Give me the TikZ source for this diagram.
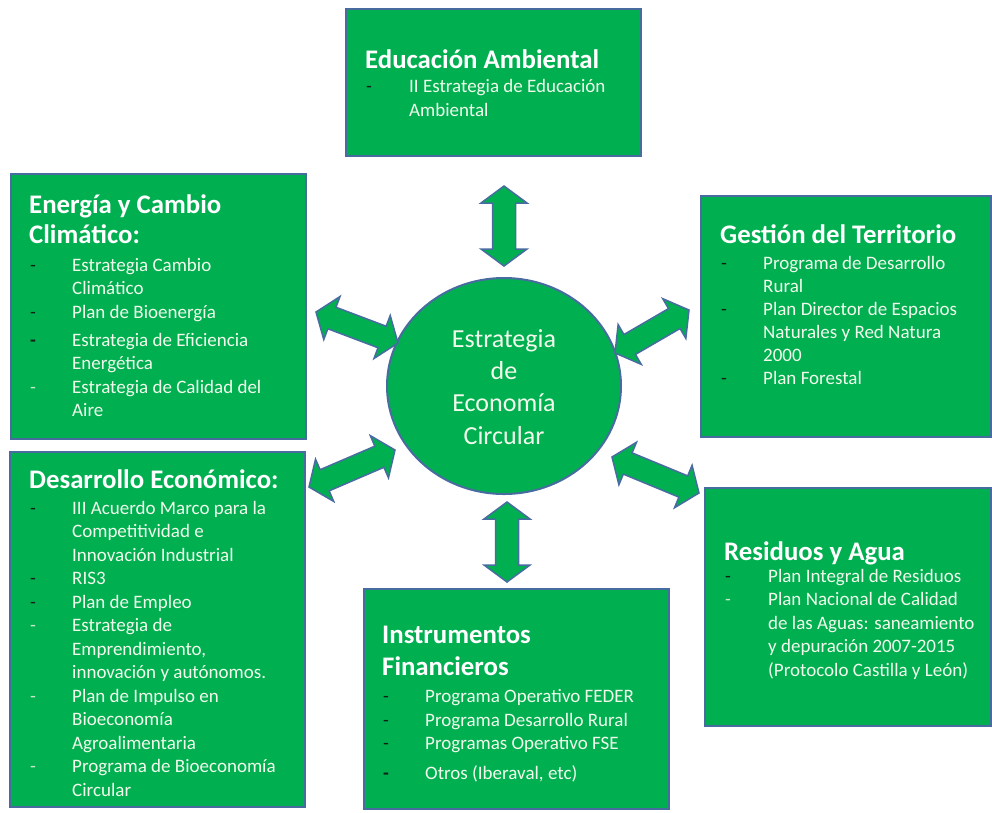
\documentclass[tikz,border=0pt]{standalone}
\usepackage{fontspec}
\setmainfont{Carlito}
\usetikzlibrary{calc,shapes.geometric}
\definecolor{grn}{RGB}{0,176,80}
\definecolor{bordc}{RGB}{72,108,160}
\definecolor{txtc}{RGB}{242,250,236}
\definecolor{lightdash}{RGB}{200,232,200}
\definecolor{darkdash}{RGB}{20,30,20}
\tikzset{
  box/.style={draw=bordc, line width=2pt, fill=grn, anchor=north west, inner sep=0pt},
  ttl/.style={text=white, font=\fontsize{26.8}{31}\selectfont\bfseries, anchor=base west, inner sep=0pt},
  bdy/.style={text=txtc, font=\fontsize{19}{23}\selectfont, anchor=base west, inner sep=0pt},
  dkd/.style={bdy, text=darkdash},
  dkb/.style={bdy, text=darkdash, font=\fontsize{19}{23}\selectfont\bfseries},
  ltd/.style={bdy, text=lightdash},
  ctr/.style={text=txtc, font=\fontsize{26}{31}\selectfont, anchor=base, inner sep=0pt},
  arrowshape/.style={draw=bordc, fill=grn, line width=1.5pt, line join=miter},
  circ/.style={ellipse, draw=bordc, fill=grn, line width=2pt, inner sep=0pt}
}
\newcommand{\dblarr}[2]{%
  \draw[arrowshape] let \p1=($(#2)-(#1)$), \n1={atan2(\y1,\x1)}, \n2={veclen(\x1,\y1)} in
    [shift={(#1)}, rotate=\n1]
    (0pt,0pt) -- (17pt,-23pt) -- (17pt,-11.5pt) -- (\n2-17pt,-11.5pt) -- (\n2-17pt,-23pt)
    -- (\n2,0pt) -- (\n2-17pt,23pt) -- (\n2-17pt,11.5pt) -- (17pt,11.5pt) -- (17pt,23pt) -- cycle;}
\begin{document}
\begin{tikzpicture}[x=1pt,y=-1pt]
\useasboundingbox (0,0) rectangle (992,812);
% boxes
\node[box, minimum width=295pt, minimum height=147pt] (edu) at (345,8) {};
\node[box, minimum width=295pt, minimum height=265pt] (ene) at (10,173) {};
\node[box, minimum width=295pt, minimum height=355pt] (des) at (9,451) {};
\node[box, minimum width=290pt, minimum height=241pt] (ges) at (700,195) {};
\node[box, minimum width=286pt, minimum height=238pt] (res) at (704,487) {};
\node[box, minimum width=305pt, minimum height=220pt] (ins) at (363,588) {};
% centre
\node[circ, minimum width=234pt, minimum height=216pt] (c) at (504,386) {};
\node[ctr] (c1) at (504,347) {Estrategia};
\node[ctr] (c2) at (504,379) {de};
\node[ctr] (c3) at (504,411.5) {Economía};
\node[ctr] (c4) at (504,444) {Circular};
% arrows
\coordinate (tA) at (504,186); \coordinate (tB) at (504,266);
\coordinate (bA) at (507,502); \coordinate (bB) at (507,582);
\coordinate (ulA) at (316,312); \coordinate (ulB) at (398,343);
\coordinate (urA) at (615,353); \coordinate (urB) at (689,310);
\coordinate (llA) at (309,487); \coordinate (llB) at (395,450);
\coordinate (lrA) at (612,457); \coordinate (lrB) at (699,493);
\dblarr{tA}{tB}
\dblarr{bA}{bB}
\dblarr{ulA}{ulB}
\dblarr{urA}{urB}
\dblarr{llA}{llB}
\dblarr{lrA}{lrB}
% Educacion
\node[ttl] (edt) at (365,68) {Educación Ambiental};
\node[dkd] (edd1) at (366,92) {-};
\node[bdy] (edi1) at (409,92) {II Estrategia de Educación};
\node[bdy] (edi2) at (409,116) {Ambiental};
% Energia
\node[ttl] (ent1) at (29,213) {Energía y Cambio};
\node[ttl] (ent2) at (29,243) {Climático:};
\node[dkd] (end1) at (30,271) {-};
\node[bdy] (eni1) at (72,271) {Estrategia Cambio};
\node[bdy] (eni2) at (72,294) {Climático};
\node[dkd] (end2) at (30,318) {-};
\node[bdy] (eni3) at (72,318) {Plan de Bioenergía};
\node[dkb] (end3) at (30,346) {-};
\node[bdy] (eni4) at (72,346) {Estrategia de Eficiencia};
\node[bdy] (eni5) at (72,369) {Energética};
\node[ltd] (end4) at (30,393) {-};
\node[bdy] (eni6) at (72,393) {Estrategia de Calidad del};
\node[bdy] (eni7) at (72,416) {Aire};
% Desarrollo
\node[ttl] (det) at (29,488) {Desarrollo Económico:};
\node[dkd] (ded1) at (30,514) {-};
\node[bdy] (dei1) at (72,514) {III Acuerdo Marco para la};
\node[bdy] (dei2) at (72,537.5) {Competitividad e};
\node[bdy] (dei3) at (72,561) {Innovación Industrial};
\node[dkd] (ded2) at (30,584.5) {-};
\node[bdy] (dei4) at (72,584.5) {RIS3};
\node[dkd] (ded3) at (30,608) {-};
\node[bdy] (dei5) at (72,608) {Plan de Empleo};
\node[ltd] (ded4) at (30,631.5) {-};
\node[bdy] (dei6) at (72,631.5) {Estrategia de};
\node[bdy] (dei7) at (72,655) {Emprendimiento,};
\node[bdy] (dei8) at (72,678.5) {innovación y autónomos.};
\node[ltd] (ded5) at (30,702) {-};
\node[bdy] (dei9) at (72,702) {Plan de Impulso en};
\node[bdy] (dei10) at (72,725.5) {Bioeconomía};
\node[bdy] (dei11) at (72,749) {Agroalimentaria};
\node[ltd] (ded6) at (30,772.5) {-};
\node[bdy] (dei12) at (72,772.5) {Programa de Bioeconomía};
\node[bdy] (dei13) at (72,796) {Circular};
% Gestion
\node[ttl] (get) at (720,243) {Gestión del Territorio};
\node[dkd] (ged1) at (721,269) {-};
\node[bdy] (gei1) at (763,269) {Programa de Desarrollo};
\node[bdy] (gei2) at (763,292) {Rural};
\node[dkd] (ged2) at (721,315) {-};
\node[bdy] (gei3) at (763,315) {Plan Director de Espacios};
\node[bdy] (gei4) at (763,338) {Naturales y Red Natura};
\node[bdy] (gei5) at (763,361) {2000};
\node[dkd] (ged3) at (721,384) {-};
\node[bdy] (gei6) at (763,384) {Plan Forestal};
% Residuos
\node[ttl] (ret) at (724,560) {Residuos y Agua};
\node[dkd] (red1) at (725,582) {-};
\node[bdy] (rei1) at (768,582) {Plan Integral de Residuos};
\node[ltd] (red2) at (725,605.5) {-};
\node[bdy] (rei2) at (768,605.5) {Plan Nacional de Calidad};
\node[bdy] (rei3) at (768,629) {de las Aguas: saneamiento};
\node[bdy] (rei4) at (768,652.5) {y depuración 2007-2015};
\node[bdy] (rei5) at (768,676) {(Protocolo Castilla y León)};
% Instrumentos
\node[ttl] (int1) at (382,643) {Instrumentos};
\node[ttl] (int2) at (382,675) {Financieros};
\node[dkd] (ind1) at (383,702) {-};
\node[bdy] (ini1) at (425,702) {Programa Operativo FEDER};
\node[dkd] (ind2) at (383,726) {-};
\node[bdy] (ini2) at (425,726) {Programa Desarrollo Rural};
\node[dkd] (ind3) at (383,749) {-};
\node[bdy] (ini3) at (425,749) {Programas Operativo FSE};
\node[dkb] (ind4) at (383,779) {-};
\node[bdy] (ini4) at (425,779) {Otros (Iberaval, etc)};
\end{tikzpicture}
\end{document}
